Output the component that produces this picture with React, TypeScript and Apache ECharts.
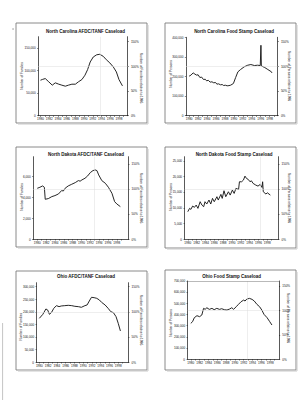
import React, { useEffect, useRef } from "react";
import * as echarts from "echarts";

// Shared tick values
const yearLabels = [1980, 1982, 1984, 1986, 1988, 1990, 1992, 1994, 1996, 1998];
const yearTicks = [1980, 1981, 1982, 1983, 1984, 1985, 1986, 1987, 1988, 1989, 1990, 1991, 1992, 1993, 1994, 1995, 1996, 1997, 1998, 1999];
const pctTicks = [0, 50, 100, 150];

// North Carolina AFDC/TANF caseload (families)
const ncAfdcYears = [1980.0, 1980.5, 1981.1, 1981.9, 1982.7, 1983.4, 1984.2, 1984.9, 1985.7, 1986.4, 1987.2, 1988.0, 1988.7, 1989.5, 1990.2, 1990.8, 1991.4, 1992.1, 1992.9, 1993.6, 1994.4, 1995.1, 1995.9, 1996.7, 1997.4, 1998.0, 1998.8];
const ncAfdcFamilies = [78600, 80500, 82300, 75000, 67600, 72800, 69800, 67600, 65400, 67600, 69800, 69800, 75000, 80100, 89700, 102000, 119000, 130000, 135000, 136000, 131500, 124000, 117000, 108000, 97000, 80000, 66000];
const ncAfdcTicks = [0, 50000, 100000, 150000];

// North Carolina Food Stamp caseload (persons)
const ncFsYears = [1980.0, 1980.4, 1980.9, 1981.3, 1981.7, 1982.0, 1982.4, 1982.8, 1983.2, 1983.6, 1983.9, 1984.3, 1984.7, 1985.1, 1985.5, 1985.9, 1986.2, 1986.6, 1987.0, 1987.4, 1987.7, 1988.1, 1988.5, 1988.9, 1989.3, 1989.9, 1990.4, 1990.9, 1991.5, 1992.3, 1993.1, 1993.8, 1994.6, 1995.3, 1995.9, 1996.05, 1996.15, 1996.9, 1997.6, 1998.4, 1998.5];
const ncFsPersons = [201700, 206800, 218600, 211900, 206800, 209000, 194900, 197000, 184700, 186000, 178000, 180500, 171200, 173000, 167800, 169500, 161000, 162500, 157600, 159000, 154200, 155500, 152500, 153500, 155900, 164400, 194900, 223700, 235600, 249200, 257600, 261000, 255900, 257600, 255900, 359300, 254200, 245800, 235600, 223700, 218600];
const ncFsTicks = [0, 100000, 200000, 300000, 400000];

// North Dakota AFDC/TANF caseload (families)
const ndAfdcYears = [1980.0, 1980.6, 1981.2, 1981.6, 1981.8, 1982.5, 1983.3, 1984.0, 1984.8, 1985.5, 1985.9, 1986.3, 1987.0, 1987.8, 1988.6, 1989.3, 1989.7, 1990.1, 1990.8, 1991.4, 1992.0, 1992.6, 1993.1, 1993.5, 1993.9, 1994.6, 1995.4, 1996.1, 1996.9, 1997.5, 1998.0, 1998.8];
const ndAfdcFamilies = [4880, 4976, 5104, 4976, 3828, 3892, 4083, 4179, 4338, 4657, 4620, 4881, 5104, 5264, 5423, 5615, 5560, 5678, 5838, 6061, 6380, 6571, 6635, 6571, 6156, 5615, 5360, 4976, 4402, 3605, 3381, 3126];
const ndAfdcTicks = [0, 2000, 4000, 6000];

// North Dakota Food Stamp caseload (persons)
const ndFsYears = [1980.0, 1980.4, 1980.7, 1981.1, 1981.5, 1981.9, 1982.3, 1982.8, 1983.2, 1983.6, 1983.9, 1984.3, 1984.8, 1985.2, 1985.6, 1986.0, 1986.6, 1986.9, 1987.5, 1987.8, 1988.2, 1988.6, 1989.2, 1989.6, 1990.1, 1990.5, 1990.9, 1991.5, 1991.7, 1992.2, 1992.6, 1992.95, 1993.3, 1993.7, 1994.1, 1994.4, 1994.8, 1995.4, 1995.9, 1996.4, 1996.8, 1996.95, 1997.1, 1997.7, 1998.0, 1998.4, 1998.7];
const ndFsPersons = [8790, 9850, 9530, 10590, 10170, 10900, 9850, 11970, 10900, 10380, 11970, 11230, 12500, 11230, 13030, 11970, 13560, 12500, 14300, 13030, 15460, 13560, 15140, 14080, 15670, 14610, 16200, 15880, 18320, 18320, 18850, 20120, 19380, 19060, 18320, 18640, 17790, 17260, 16940, 17470, 16520, 18320, 15140, 14400, 14820, 14400, 14080];
const ndFsTicks = [0, 5000, 10000, 15000, 20000, 25000];

// Ohio AFDC/TANF caseload (families)
const ohAfdcYears = [1980.0, 1980.8, 1981.5, 1981.9, 1982.3, 1982.8, 1983.3, 1983.9, 1984.5, 1985.0, 1985.8, 1986.6, 1987.4, 1988.1, 1988.9, 1989.6, 1990.4, 1990.9, 1991.4, 1991.9, 1992.5, 1993.1, 1993.7, 1994.2, 1995.0, 1995.7, 1996.3, 1996.9, 1997.5, 1998.0, 1998.5];
const ohAfdcFamilies = [174600, 190500, 211700, 207700, 190500, 198500, 214300, 224900, 220900, 223600, 224900, 226200, 224900, 222300, 220900, 218300, 224900, 227600, 243400, 258000, 256600, 254000, 247400, 238100, 227600, 214300, 201100, 197100, 181300, 154800, 124400];
const ohAfdcTicks = [0, 50000, 100000, 150000, 200000, 250000, 300000];

// Ohio Food Stamp caseload (persons)
const ohFsYears = [1980.0, 1980.4, 1980.8, 1981.4, 1982.0, 1982.5, 1982.9, 1983.3, 1983.6, 1984.2, 1984.8, 1985.3, 1985.9, 1986.5, 1987.0, 1987.6, 1988.2, 1988.8, 1989.3, 1989.7, 1990.3, 1990.8, 1991.4, 1992.0, 1992.3, 1992.7, 1993.3, 1993.9, 1994.4, 1995.0, 1995.6, 1996.1, 1996.6, 1997.3, 1997.9, 1998.4];
const ohFsPersons = [321400, 336300, 372000, 389900, 381000, 395800, 455300, 446400, 461300, 446400, 455300, 443400, 455300, 446400, 452300, 443400, 440400, 449400, 461300, 446400, 470200, 491000, 514800, 529700, 520700, 538600, 544600, 535700, 520700, 491000, 470200, 440400, 401800, 372000, 336300, 306500];
const ohFsTicks = [0, 100000, 200000, 300000, 400000, 500000, 600000, 700000];

const FONT = "'Liberation Sans', Arial, sans-serif";
const INK = "#111111";

type Panel = {
  box: [number, number, number, number];
  title: string;
  titleX: number;
  titleY: number;
  plot: [number, number, number, number];
  xMin: number;
  xMax: number;
  yMax: number;
  yTicks: number[];
  pctMax: number;
  leftName: string;
  rightName: string;
  leftNameAt: [number, number];
  rightNameAt: [number, number];
  years: number[];
  values: number[];
  refYear?: number;
  topLine?: boolean;
};

const panels: Panel[] = [
  {
    box: [16, 23, 147, 123], title: "North Carolina AFDC/TANF Caseload", titleX: 85.5, titleY: 31,
    plot: [38.3, 36.7, 127.7, 115.7], xMin: 1979.5, xMax: 2000, yMax: 175000, yTicks: ncAfdcTicks, pctMax: 160,
    leftName: "Number of Families", rightName: "Number of Families relative to 1996",
    leftNameAt: [21.7, 76], rightNameAt: [141, 78], years: ncAfdcYears, values: ncAfdcFamilies, refYear: 1993.6,
  },
  {
    box: [165, 23, 296, 123], title: "North Carolina Food Stamp Caseload", titleX: 234, titleY: 31,
    plot: [186, 37.3, 277.7, 115.7], xMin: 1979.3, xMax: 1999.8, yMax: 400000, yTicks: ncFsTicks, pctMax: 159,
    leftName: "Number of Persons", rightName: "Number of Persons relative to 1996",
    leftNameAt: [170.7, 74], rightNameAt: [289.3, 76], years: ncFsYears, values: ncFsPersons,
  },
  {
    box: [16, 147, 147, 247], title: "North Dakota AFDC/TANF Caseload", titleX: 86, titleY: 154.7,
    plot: [33.3, 156.7, 128.3, 239.3], xMin: 1979.1, xMax: 2000.6, yMax: 7900, yTicks: ndAfdcTicks, pctMax: 164.5,
    leftName: "Number of Families", rightName: "Number of Families relative to 1996",
    leftNameAt: [21.7, 197], rightNameAt: [141.7, 198], years: ndAfdcYears, values: ndAfdcFamilies, refYear: 1993,
  },
  {
    box: [165, 147, 296, 248], title: "North Dakota Food Stamp Caseload", titleX: 234, titleY: 154.7,
    plot: [184.7, 156.7, 278.3, 239.3], xMin: 1979.3, xMax: 2000.5, yMax: 26300, yTicks: ndFsTicks, pctMax: 164.5,
    leftName: "Number of Persons", rightName: "Number of Persons relative to 1996",
    leftNameAt: [170.7, 197], rightNameAt: [289.3, 198], years: ndFsYears, values: ndFsPersons, refYear: 1996.4,
  },
  {
    box: [16, 271, 147, 370], title: "Ohio AFDC/TANF Caseload", titleX: 86, titleY: 276.8,
    plot: [36.7, 282.7, 128.3, 362.3], xMin: 1979.4, xMax: 2000.3, yMax: 316000, yTicks: ohAfdcTicks, pctMax: 158,
    leftName: "Number of Families", rightName: "Number of Families relative to 1996",
    leftNameAt: [20.7, 326.7], rightNameAt: [141.7, 320], years: ohAfdcYears, values: ohAfdcFamilies,
  },
  {
    box: [165, 270, 296, 370], title: "Ohio Food Stamp Caseload", titleX: 231.7, titleY: 276,
    plot: [187.7, 281, 279, 359.3], xMin: 1979.3, xMax: 2000, yMax: 700000, yTicks: ohFsTicks, pctMax: 160,
    leftName: "Number of Persons", rightName: "Number of Persons relative to 1996",
    leftNameAt: [170.7, 323], rightNameAt: [288.3, 318], years: ohFsYears, values: ohFsPersons, refYear: 1992.7, topLine: true,
  },
];

const fmtThousands = (v: number) => v.toLocaleString("en-US");

function buildOption() {
  const grid: any[] = [];
  const xAxis: any[] = [];
  const yAxis: any[] = [];
  const series: any[] = [];
  const graphic: any[] = [];

  const axisLine = { show: true, lineStyle: { color: INK, width: 0.7 } };
  const labelBase = { fontSize: 3.1, color: INK, fontFamily: FONT };

  panels.forEach((p, i) => {
    const [l, t, r, b] = p.plot;
    grid.push({ left: l, top: t, width: r - l, height: b - t, containLabel: false });

    xAxis.push({
      type: "value", gridIndex: i, min: p.xMin, max: p.xMax,
      axisLine,
      axisTick: { show: true, customValues: yearTicks, length: 1.2, lineStyle: { color: INK, width: 0.5 } },
      axisLabel: { ...labelBase, margin: 1.6, customValues: yearLabels, formatter: (v: number) => String(v) },
      splitLine: { show: false },
    });

    yAxis.push({
      type: "value", gridIndex: i, position: "left", min: 0, max: p.yMax,
      axisLine,
      axisTick: { show: true, customValues: p.yTicks, length: 1.2, lineStyle: { color: INK, width: 0.5 } },
      axisLabel: { ...labelBase, margin: 2.6, customValues: p.yTicks, formatter: fmtThousands },
      splitLine: { show: false },
    });
    yAxis.push({
      type: "value", gridIndex: i, position: "right", min: 0, max: p.pctMax,
      axisLine,
      axisTick: { show: true, customValues: pctTicks, length: 1.2, lineStyle: { color: INK, width: 0.5 } },
      axisLabel: { ...labelBase, margin: 3.2, customValues: pctTicks, formatter: (v: number) => v + "%" },
      splitLine: { show: false },
    });

    const refLevel = (p.yMax * 100) / p.pctMax;
    const markData: any[] = [{ yAxis: refLevel }];
    if (p.refYear !== undefined) markData.push({ xAxis: p.refYear });
    if (p.topLine) markData.push({ yAxis: p.yMax, lineStyle: { color: "#8a8a8a", width: 0.6, type: "solid" } });

    series.push({
      type: "line", xAxisIndex: i, yAxisIndex: i * 2,
      data: p.years.map((y, k) => [y, p.values[k]]),
      showSymbol: false, smooth: false,
      lineStyle: { color: "#1a1a1a", width: 0.95 },
      markLine: {
        silent: true, symbol: "none", label: { show: false },
        lineStyle: { color: "#dcdcdc", width: 0.5, type: "solid" },
        data: markData,
      },
    });

    const [bx0, by0, bx1, by1] = p.box;
    graphic.push({
      type: "rect", shape: { x: bx0, y: by0, width: bx1 - bx0, height: by1 - by0 },
      style: { fill: "none", stroke: "#7e7e7e", lineWidth: 0.9 }, silent: true,
    });
    graphic.push({
      type: "polyline", shape: { points: [[bx1 + 1, by0 + 2], [bx1 + 1, by1 + 1], [bx0 + 2, by1 + 1]] },
      style: { fill: "none", stroke: "#cacaca", lineWidth: 1 }, silent: true,
    });
    graphic.push({
      type: "text", x: p.titleX, y: p.titleY, silent: true,
      style: { text: p.title, fontSize: 4.5, fontWeight: "bold", fontFamily: FONT, fill: INK, align: "center", verticalAlign: "middle" },
    });
    graphic.push({
      type: "text", x: p.leftNameAt[0], y: p.leftNameAt[1], rotation: Math.PI / 2, silent: true,
      style: { text: p.leftName, fontSize: 3.2, fontFamily: FONT, fill: INK, align: "center", verticalAlign: "middle" },
    });
    graphic.push({
      type: "text", x: p.rightNameAt[0], y: p.rightNameAt[1], rotation: -Math.PI / 2, silent: true,
      style: { text: p.rightName, fontSize: 3.2, fontFamily: FONT, fill: INK, align: "center", verticalAlign: "middle" },
    });
  });

  // specks and the faint edge line on the scanned page
  graphic.push({ type: "circle", shape: { cx: 13, cy: 29, r: 0.6 }, style: { fill: "#777" }, silent: true });
  graphic.push({ type: "circle", shape: { cx: 13, cy: 13, r: 0.4 }, style: { fill: "#aaa" }, silent: true });
  graphic.push({ type: "line", shape: { x1: 2.6, y1: 323, x2: 2.6, y2: 400 }, style: { stroke: "#c4c4c4", lineWidth: 1 }, silent: true });

  return {
    animation: false,
    backgroundColor: "#ffffff",
    grid, xAxis, yAxis, series, graphic,
  };
}

export default function App() {
  const ref = useRef<HTMLDivElement>(null);
  useEffect(() => {
    if (!ref.current) return;
    const chart = echarts.init(ref.current, undefined, { renderer: "svg" });
    chart.setOption(buildOption() as any);
    return () => chart.dispose();
  }, []);
  return (
    <div
      ref={ref}
      style={{ position: "absolute", left: 0, top: 0, width: 307, height: 400, background: "#fff" }}
    />
  );
}
